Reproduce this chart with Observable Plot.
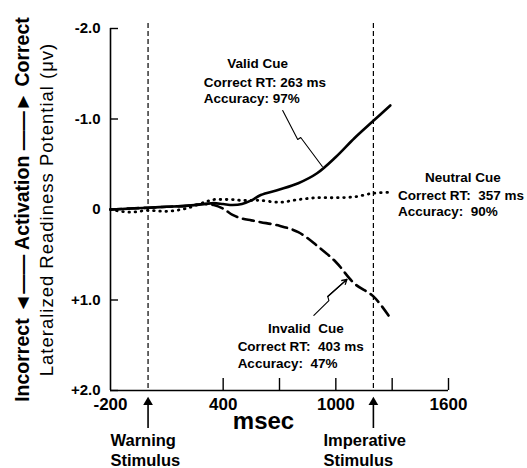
<!DOCTYPE html>
<html><head><meta charset="utf-8">
<script src="https://cdn.jsdelivr.net/npm/d3@7"></script>
<script src="https://cdn.jsdelivr.net/npm/@observablehq/plot@0.6"></script>
<style>
body{margin:0;background:#fff;}
#chart{width:527px;height:468px;overflow:hidden;}
.subt text{letter-spacing:1px;}
</style></head><body><div id="chart"></div>
<script>
// time in msec
const timeMs = [-200,-100,0,100,200,300,350,400,450,500,550,600,700,800,900,1000,1100,1200,1290];
// LRP in microvolts (negative = correct activation)
const validLRP   = [0,-0.01,-0.02,-0.03,-0.04,-0.06,-0.07,-0.06,-0.05,-0.06,-0.10,-0.16,-0.22,-0.29,-0.40,-0.58,-0.79,-0.98,-1.15];
const neutralLRP = [0,0.03,0.01,0.02,-0.01,-0.08,-0.11,-0.11,-0.11,-0.10,-0.10,-0.10,-0.08,-0.11,-0.13,-0.13,-0.14,-0.18,-0.19];
const invalidLRP = [0,-0.01,-0.02,-0.03,-0.04,-0.06,-0.05,-0.01,0.06,0.10,0.12,0.14,0.18,0.25,0.40,0.58,0.82,0.96,1.20];

const yTicks = [-2,-1,0,1,2];
const yTickLabels = ["-2.0","-1.0","0","+1.0","+2.0"];
const xTickLabels = [-200,400,1000,1600];
const xTickMarks = [400,700,1000,1300,1600];
const stimulusMs = [0,1200];

const yTitle = "Incorrect \u25C4\u2014\u2014 Activation \u2014\u2014\u25BA Correct";
const ySubTitle = "Lateralized Readiness Potential (\u03BCv)";

// annotation labels (ms, µV)
const labelsCenter = [
  {t:"Valid Cue", x:584, y:-1.61},
  {t:"Neutral Cue", x:1677, y:-0.35},
  {t:"Invalid  Cue", x:840, y:1.315}
];
const labelsStart = [
  {t:"Correct RT: 263 ms", x:296, y:-1.40},
  {t:"Accuracy: 97%", x:296, y:-1.22},
  {t:"Correct RT:  357 ms", x:1331, y:-0.155},
  {t:"Accuracy:  90%", x:1331, y:0.02},
  {t:"Correct RT:  403 ms", x:477, y:1.515},
  {t:"Accuracy:  47%", x:477, y:1.70}
];
const validCallout = [{x:717,y:-1.094},{x:797,y:-0.773},{x:813,y:-0.796},{x:928,y:-0.475}];
const invalidCallout = [{x:883,y:1.171},{x:963,y:1.006},{x:957,y:0.961},{x:1059,y:0.773}];

const rows = (vals, s) => timeMs.map((t,i)=>({t, v:vals[i], s}));
const valid = rows(validLRP,"valid");
const neutral = rows(neutralLRP,"neutral");
const invalid = rows(invalidLRP,"invalid");

const FONT = "'Liberation Sans', Arial, Helvetica, sans-serif";

const chart = Plot.plot({
  width: 527, height: 468,
  marginLeft: 110, marginRight: 79, marginTop: 28, marginBottom: 78,
  style: {background:"#fff", color:"#000", fontFamily: FONT},
  x: {domain:[-200,1600], axis:null},
  y: {domain:[-2,2], reverse:true, axis:null},
  marks: [
    Plot.ruleX(stimulusMs, {y1:-2.055, y2:2, stroke:"#000", strokeWidth:1.2, strokeDasharray:"5,3"}),
    Plot.line(valid, {x:"t", y:"v", curve:"catmull-rom", stroke:"#000", strokeWidth:2.6}),
    Plot.line(neutral, {x:"t", y:"v", curve:"catmull-rom", stroke:"#000", strokeWidth:2.8, strokeDasharray:"0.6,5.6", strokeLinecap:"round"}),
    Plot.line(invalid, {x:"t", y:"v", curve:"catmull-rom", stroke:"#000", strokeWidth:2.6, strokeDasharray:"11,6"}),
    // axis lines
    Plot.ruleX([-200], {y1:-2, y2:2, stroke:"#000", strokeWidth:1.6}),
    Plot.ruleY([2], {x1:-200, x2:1600, stroke:"#000", strokeWidth:1.6}),
    // y ticks (inward) and labels
    Plot.axisY(yTicks, {tickSize:-8, tickFormat:()=> "", strokeWidth:1.4}),
    Plot.axisY(yTicks, {tickSize:0, tickPadding:10, tickFormat:(d)=> yTickLabels[yTicks.indexOf(d)], fontSize:15, fontWeight:"bold", label:null}),
    // x ticks (inward) and labels
    Plot.axisX(xTickMarks, {tickSize:-12, tickFormat:()=> "", strokeWidth:1.4}),
    Plot.axisX(xTickLabels, {tickSize:0, tickPadding:7, fontSize:17, fontWeight:"bold", label:null, tickFormat:d=>String(d)}),
    // stimulus arrows
    Plot.ruleX(stimulusMs, {y1:2.12, y2:2.42, stroke:"#000", strokeWidth:1.6}),
    Plot.dot(stimulusMs, {x:d=>d, y:2.13, symbol:"triangle", r:3.6, fill:"#000", stroke:null}),
    // annotations
    Plot.text(labelsCenter, {x:"x", y:"y", text:"t", textAnchor:"middle", fontSize:13.5, fontWeight:"bold"}),
    Plot.text(labelsStart, {x:"x", y:"y", text:"t", textAnchor:"start", fontSize:13.5, fontWeight:"bold"}),
    Plot.line(validCallout, {x:"x", y:"y", stroke:"#000", strokeWidth:1.1}),
    Plot.line(invalidCallout, {x:"x", y:"y", stroke:"#000", strokeWidth:1.1}),
    Plot.arrow([invalidCallout], {x1:d=>d[2].x, y1:d=>d[2].y, x2:d=>d[3].x, y2:d=>d[3].y, headLength:6, strokeWidth:1.3, stroke:"#000"}),
    // x labels
    Plot.text(["msec"], {frameAnchor:"bottom-left", text:d=>d, dx:153, dy:38, fontSize:24, fontWeight:"bold", textAnchor:"middle"}),
    Plot.text(["Warning\nStimulus"], {frameAnchor:"bottom-left", text:d=>d, dx:0, dy:41, lineAnchor:"top", textAnchor:"start", lineHeight:1.22, fontSize:16.5, fontWeight:"bold"}),
    Plot.text(["Imperative\nStimulus"], {frameAnchor:"bottom-left", text:d=>d, dx:213, dy:41, lineAnchor:"top", textAnchor:"start", lineHeight:1.22, fontSize:16.5, fontWeight:"bold"}),
    // y titles
    Plot.text([yTitle], {frameAnchor:"left", text:d=>d, rotate:-90, dx:-88, dy:0, textAnchor:"middle", fontSize:19.5, fontWeight:"bold"}),
    Plot.text([ySubTitle], {frameAnchor:"left", text:d=>d, rotate:-90, dx:-63, textAnchor:"middle", fontSize:18.5, className:"subt"})
  ]
});
document.getElementById("chart").appendChild(chart);
</script>
</body></html>
